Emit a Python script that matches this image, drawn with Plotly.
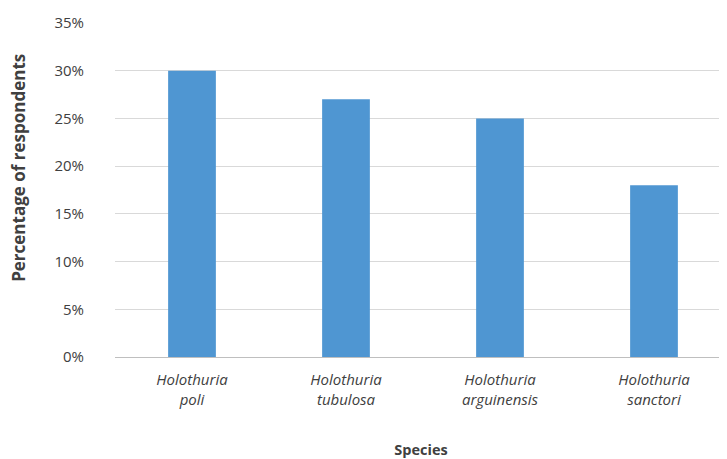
import plotly.graph_objects as go

categories = ["<i>Holothuria<br>poli</i>", "<i>Holothuria<br>tubulosa</i>",
              "<i>Holothuria<br>arguinensis</i>", "<i>Holothuria<br>sanctori</i>"]
values = [30, 27, 25, 18]
y_ticks = [0, 5, 10, 15, 20, 25, 30, 35]
y_tick_labels = [f"{v}%" for v in y_ticks]

FONT = "Open Sans"
TXT = "#404040"
FS = 15

fig = go.Figure(go.Bar(
    x=categories, y=values, marker_color="#4f96d2",
    marker_line_width=0, width=0.31,
))
fig.update_layout(
    width=719, height=451,
    margin=dict(l=107, r=0, t=15, b=102),
    plot_bgcolor="white", paper_bgcolor="white",
    showlegend=False,
    font=dict(family=FONT, size=FS, color=TXT),
)
fig.add_annotation(
    text="<b>Percentage of respondents</b>", textangle=-90,
    xref="paper", yref="paper", x=-0.157, y=0.566,
    xanchor="center", yanchor="middle", showarrow=False,
    borderpad=0,
    font=dict(family=FONT, size=17, color=TXT),
)
fig.update_xaxes(
    range=[-0.5, 3.474],
    showgrid=False, showline=False, ticks="",
    tickfont=dict(family=FONT, size=FS, color=TXT),
    ticklabelstandoff=12,
    title=dict(text="<b>Species</b>", font=dict(family=FONT, size=14.5, color=TXT), standoff=38),
)
fig.update_yaxes(
    range=[0, 35], tickvals=y_ticks, ticktext=y_tick_labels,
    showgrid=True, gridcolor="#d9d9d9", gridwidth=1.3,
    zeroline=True, zerolinecolor="#bfbfbf", zerolinewidth=1.3,
    ticks="", ticklabelstandoff=30,
    tickfont=dict(family=FONT, size=FS, color=TXT),
)
fig.write_html("out.html")
